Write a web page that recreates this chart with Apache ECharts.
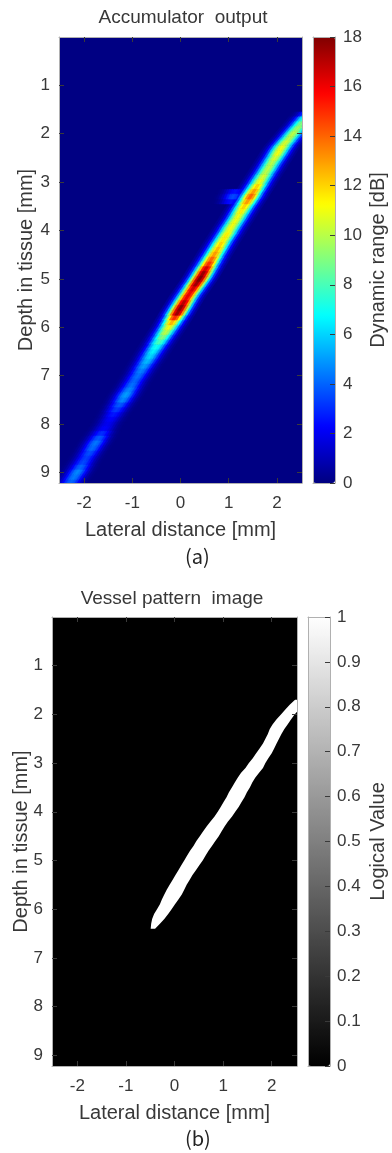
<!DOCTYPE html>
<html>
<head>
<meta charset="utf-8">
<script src="https://cdn.jsdelivr.net/npm/echarts@6/dist/echarts.min.js"></script>
<style>
html,body{margin:0;padding:0;background:#fff;}
#chart{width:392px;height:1153px;}
</style>
</head>
<body>
<div id="chart"></div>
<script>
// ---------- tick labels ----------
const lateralTicks = [-2, -1, 0, 1, 2];
const depthTicks = [1, 2, 3, 4, 5, 6, 7, 8, 9];
const dbTicks = [0, 2, 4, 6, 8, 10, 12, 14, 16, 18];
const logicalTicks = [0, 0.1, 0.2, 0.3, 0.4, 0.5, 0.6, 0.7, 0.8, 0.9, 1];
const lateralRange = [-2.52, 2.52];
const depthRange = [0, 9.22];
const dbRange = [0, 18];
const logicalRange = [0, 1];

// ---------- panel (a): accumulator ridge, read per 0.1 mm depth row ----------
const ridgeDepth = [1.6,1.7,1.8,1.9,2.0,2.1,2.2,2.3,2.4,2.5,2.6,2.7,2.8,2.9,3.0,3.1,3.2,3.3,3.4,3.5,3.6,3.7,3.8,3.9,4.0,4.1,4.2,4.3,4.4,4.5,4.6,4.7,4.8,4.9,5.0,5.1,5.2,5.3,5.4,5.5,5.6,5.7,5.8,5.9,6.0,6.1,6.2,6.3,6.4,6.5,6.6,6.7,6.8,6.9,7.0,7.1,7.2,7.3,7.4,7.5,7.6,7.7,7.8,7.9,8.0,8.1,8.2,8.3,8.4,8.5,8.6,8.7,8.8,8.9,9.0,9.1,9.2];
const ridgeCenter = [2.66,2.58,2.50,2.42,2.33,2.25,2.16,2.08,2.02,1.96,1.89,1.83,1.77,1.70,1.64,1.58,1.51,1.45,1.39,1.32,1.26,1.20,1.14,1.07,1.01,0.95,0.88,0.82,0.76,0.70,0.64,0.58,0.52,0.46,0.40,0.33,0.26,0.19,0.12,0.06,0.00,-0.06,-0.12,-0.18,-0.24,-0.31,-0.37,-0.44,-0.50,-0.57,-0.63,-0.69,-0.76,-0.82,-0.88,-0.95,-1.01,-1.07,-1.14,-1.20,-1.26,-1.33,-1.39,-1.45,-1.52,-1.58,-1.64,-1.70,-1.77,-1.83,-1.89,-1.96,-2.02,-2.08,-2.14,-2.21,-2.27];
const ridgePeak = [5,8,9,9.5,10,10,10.5,11,11,10.5,10,10,10,10.5,11,12,13,14,13,12,11.5,11,11,11,11,11.5,11.5,12,12.5,13,14,15,16.5,17.5,18,17.5,16.5,16,16,17,17.8,17.5,15,12.5,11,10,9,8,7,6.5,6,5.5,5,4.5,4.2,4,4.2,4.6,5,4.6,3.8,3.2,2.6,2.2,2,2.2,3,3.8,4.3,4.1,3.6,3.3,3.5,4,4.6,4.4,4];
// faint side lobe beside the ridge
const lobeDepth = [3.2, 3.3, 3.4];
const lobeCenter = [1.13, 1.09, 1.05];
const lobePeak = [2.5, 3.5, 2.5];
// lateral profile across the ridge (relative level at lateral offsets, mm)
const profileOffset = [-0.35,-0.30,-0.25,-0.20,-0.15,-0.10,-0.05,0,0.05,0.10,0.15,0.20,0.25,0.30,0.35];
const profileWeight = [0.035,0.085,0.18,0.33,0.54,0.76,0.93,1,0.93,0.76,0.54,0.33,0.18,0.085,0.035];

// ---------- panel (b): binary vessel mask, edges per 0.1 mm depth row ----------
const vesselDepth = [1.7,1.8,1.9,2.0,2.1,2.2,2.3,2.4,2.5,2.6,2.7,2.8,2.9,3.0,3.1,3.2,3.3,3.4,3.5,3.6,3.7,3.8,3.9,4.0,4.1,4.2,4.3,4.4,4.5,4.6,4.7,4.8,4.9,5.0,5.1,5.2,5.3,5.4,5.5,5.6,5.7,5.8,5.9,6.0,6.1,6.2,6.3,6.4];
const vesselLeft = [2.48,2.37,2.28,2.19,2.10,2.02,1.96,1.92,1.87,1.82,1.75,1.68,1.61,1.53,1.46,1.37,1.30,1.24,1.18,1.12,1.07,1.01,0.95,0.89,0.82,0.74,0.66,0.59,0.52,0.45,0.39,0.32,0.26,0.20,0.14,0.08,0.02,-0.04,-0.10,-0.16,-0.21,-0.26,-0.30,-0.36,-0.42,-0.46,-0.48,-0.49];
const vesselRight = [2.60,2.60,2.56,2.47,2.40,2.33,2.26,2.20,2.15,2.10,2.05,2.00,1.93,1.87,1.82,1.74,1.66,1.60,1.55,1.49,1.44,1.38,1.32,1.25,1.18,1.10,1.03,0.97,0.91,0.84,0.77,0.70,0.64,0.58,0.51,0.44,0.37,0.31,0.25,0.20,0.15,0.08,0.01,-0.06,-0.13,-0.21,-0.30,-0.40];
const vesselValue = 1;

// ---------- colour maps ----------
const jet = ['#000080','#0000ff','#0080ff','#00ffff','#80ff80','#ffff00','#ff8000','#ff0000','#800000'];
const gray = ['#000000','#ffffff'];

// ---------- build cells ----------
const rowHalf = 0.05, cellHalf = 0.028;
function ridgeCells(depths, centers, peaks) {
  const out = [];
  const n = depths.length;
  for (let i = 0; i < n; i++) {
    const c = centers[i];
    const cPrev = i > 0 ? centers[i - 1] : 2 * c - centers[i + 1];
    const cNext = i < n - 1 ? centers[i + 1] : 2 * c - centers[i - 1];
    for (let k = 0; k < profileOffset.length; k++) {
      const x = c + profileOffset[k];
      out.push([x, depths[i], peaks[i] * profileWeight[k], x + (cPrev - c) / 2, x + (cNext - c) / 2]);
    }
  }
  return out;
}
const accCells = ridgeCells(lobeDepth, lobeCenter, lobePeak)
  .concat(ridgeCells(ridgeDepth, ridgeCenter, ridgePeak))
  .sort((a, b) => a[2] - b[2]);
const vesselRows = vesselDepth.map((d, i) => [vesselLeft[i], d, vesselRight[i], vesselValue]);

// ---------- styling ----------
const FONT = "'Liberation Sans', Arial, Helvetica, sans-serif";
const TXT = '#383838';
const BOX = '#b0b0b0';
const TICK = '#3a3a3a';
const tickFont = { fontSize: 17, color: TXT, fontFamily: FONT };
const nameFont = { fontSize: 20, color: TXT, fontFamily: FONT };

const grids = [
  { left: 59, top: 37, width: 243, height: 446, show: true, backgroundColor: '#000083', borderWidth: 0 },
  { left: 313, top: 37, width: 22, height: 446 },
  { left: 52, top: 617, width: 245, height: 449, show: true, backgroundColor: '#000000', borderWidth: 0 },
  { left: 308, top: 617, width: 22, height: 449 }
];

function frameAxis(extra) {
  return Object.assign({
    type: 'value', z: 10, splitLine: { show: false }, nameMoveOverlap: false,
    axisLine: { show: true, onZero: false, lineStyle: { color: BOX, width: 1 } },
    axisLabel: { show: false },
    axisTick: { show: false }
  }, extra);
}
function tickSet(values) {
  return { show: true, inside: true, length: 5, customValues: values, lineStyle: { color: TICK, width: 1 } };
}

const xAxes = [
  frameAxis({ gridIndex: 0, position: 'bottom', min: lateralRange[0], max: lateralRange[1],
    axisTick: tickSet(lateralTicks),
    axisLabel: Object.assign({ show: true, customValues: lateralTicks, margin: 12 }, tickFont),
    name: 'Lateral distance [mm]', nameLocation: 'middle', nameGap: 37, nameTextStyle: nameFont }),
  frameAxis({ gridIndex: 0, position: 'top', min: lateralRange[0], max: lateralRange[1], axisTick: tickSet(lateralTicks) }),
  frameAxis({ gridIndex: 1, position: 'bottom', min: 0, max: 1 }),
  frameAxis({ gridIndex: 1, position: 'top', min: 0, max: 1 }),
  frameAxis({ gridIndex: 2, position: 'bottom', min: lateralRange[0], max: lateralRange[1],
    axisTick: tickSet(lateralTicks),
    axisLabel: Object.assign({ show: true, customValues: lateralTicks, margin: 12 }, tickFont),
    name: 'Lateral distance [mm]', nameLocation: 'middle', nameGap: 37, nameTextStyle: nameFont }),
  frameAxis({ gridIndex: 2, position: 'top', min: lateralRange[0], max: lateralRange[1], axisTick: tickSet(lateralTicks) }),
  frameAxis({ gridIndex: 3, position: 'bottom', min: 0, max: 1 }),
  frameAxis({ gridIndex: 3, position: 'top', min: 0, max: 1 })
];
const yAxes = [
  frameAxis({ gridIndex: 0, position: 'left', inverse: true, min: depthRange[0], max: depthRange[1],
    axisTick: tickSet(depthTicks),
    axisLabel: Object.assign({ show: true, customValues: depthTicks, margin: 9 }, tickFont),
    name: 'Depth in tissue [mm]', nameLocation: 'middle', nameRotate: 90, nameGap: 23, nameTextStyle: nameFont }),
  frameAxis({ gridIndex: 0, position: 'right', inverse: true, min: depthRange[0], max: depthRange[1], axisTick: tickSet(depthTicks) }),
  frameAxis({ gridIndex: 1, position: 'left', min: dbRange[0], max: dbRange[1] }),
  frameAxis({ gridIndex: 1, position: 'right', min: dbRange[0], max: dbRange[1],
    axisTick: tickSet(dbTicks),
    axisLabel: Object.assign({ show: true, customValues: dbTicks, margin: 8 }, tickFont),
    name: 'Dynamic range [dB]', nameLocation: 'middle', nameRotate: 90, nameGap: 33, nameTextStyle: nameFont }),
  frameAxis({ gridIndex: 2, position: 'left', inverse: true, min: depthRange[0], max: depthRange[1],
    axisTick: tickSet(depthTicks),
    axisLabel: Object.assign({ show: true, customValues: depthTicks, margin: 9 }, tickFont),
    name: 'Depth in tissue [mm]', nameLocation: 'middle', nameRotate: 90, nameGap: 21, nameTextStyle: nameFont }),
  frameAxis({ gridIndex: 2, position: 'right', inverse: true, min: depthRange[0], max: depthRange[1], axisTick: tickSet(depthTicks) }),
  frameAxis({ gridIndex: 3, position: 'left', min: logicalRange[0], max: logicalRange[1] }),
  frameAxis({ gridIndex: 3, position: 'right', min: logicalRange[0], max: logicalRange[1],
    axisTick: tickSet(logicalTicks),
    axisLabel: Object.assign({ show: true, customValues: logicalTicks, margin: 7 }, tickFont),
    name: 'Logical Value', nameLocation: 'middle', nameRotate: 90, nameGap: 38, nameTextStyle: nameFont })
];

const chart = echarts.init(document.getElementById('chart'), null, { renderer: 'canvas', width: 392, height: 1153 });
chart.setOption({
  animation: false,
  backgroundColor: '#ffffff',
  title: [
    { text: 'Accumulator  output', left: 183, top: 8, textAlign: 'center', padding: 0,
      textStyle: { fontSize: 19, fontWeight: 'normal', color: TXT, fontFamily: FONT } },
    { text: 'Vessel pattern  image', left: 172, top: 589, textAlign: 'center', padding: 0,
      textStyle: { fontSize: 19, fontWeight: 'normal', color: TXT, fontFamily: FONT } }
  ],
  grid: grids,
  xAxis: xAxes,
  yAxis: yAxes,
  visualMap: [
    { type: 'continuous', seriesIndex: 0, dimension: 2, min: dbRange[0], max: dbRange[1],
      inRange: { color: jet }, calculable: false, hoverLink: false, text: null, padding: 0,
      left: 313, top: 37, itemWidth: 22, itemHeight: 446, orient: 'vertical' },
    { type: 'continuous', seriesIndex: 1, dimension: 3, min: logicalRange[0], max: logicalRange[1],
      inRange: { color: gray }, calculable: false, hoverLink: false, text: null, padding: 0,
      left: 308, top: 617, itemWidth: 22, itemHeight: 449, orient: 'vertical' }
  ],
  series: [
    {
      type: 'custom', xAxisIndex: 0, yAxisIndex: 0, clip: true, silent: true,
      encode: { x: 0, y: 1 },
      data: accCells,
      renderItem: function (params, api) {
        const y = api.value(1), xt = api.value(3), xb = api.value(4);
        const col = api.visual('color');
        const pts = [
          api.coord([xt - cellHalf, y - rowHalf]), api.coord([xt + cellHalf, y - rowHalf]),
          api.coord([xb + cellHalf, y + rowHalf]), api.coord([xb - cellHalf, y + rowHalf])
        ];
        return { type: 'polygon', shape: { points: pts }, style: { fill: col, stroke: col, lineWidth: 0.6 } };
      }
    },
    {
      type: 'custom', xAxisIndex: 4, yAxisIndex: 4, clip: true, silent: true,
      encode: { x: 0, y: 1 },
      data: vesselRows,
      renderItem: function (params, api) {
        // the whole mask outline is drawn once: left edges downward, right edges upward
        if (params.dataIndexInside !== 0) return null;
        const n = params.dataInsideLength;
        const pts = [];
        for (let j = 0; j < n; j++) pts.push(api.coord([api.value(0, j), api.value(1, j)]));
        for (let j = n - 1; j >= 0; j--) pts.push(api.coord([api.value(2, j), api.value(1, j)]));
        const col = api.visual('color');
        return { type: 'polygon', shape: { points: pts }, style: { fill: col } };
      }
    }
  ],
  graphic: [
    { type: 'text', left: 185, top: 546, z: 20,
      style: { text: '(a)', fontSize: 20, fill: '#222', fontFamily: "'Noto Sans CJK KR', 'Noto Sans', sans-serif" } },
    { type: 'text', left: 185, top: 1128, z: 20,
      style: { text: '(b)', fontSize: 20, fill: '#222', fontFamily: "'Noto Sans CJK KR', 'Noto Sans', sans-serif" } }
  ]
});
</script>
</body>
</html>
